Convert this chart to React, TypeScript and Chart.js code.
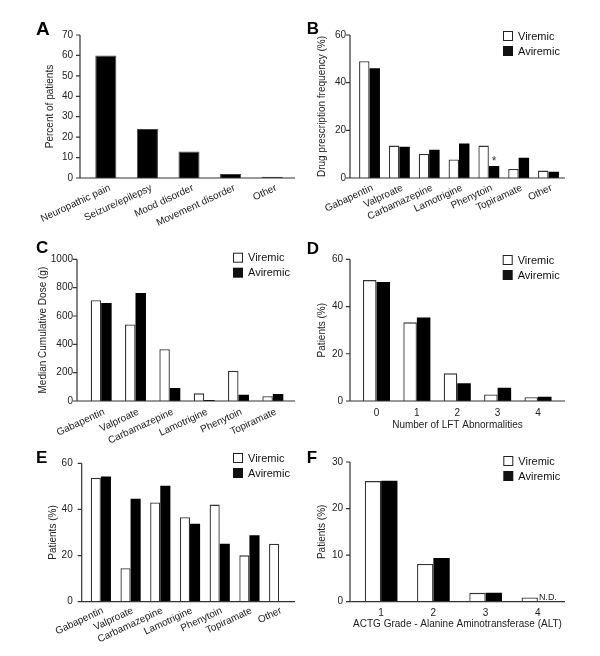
import React, { useEffect, useRef } from "react";
import { Chart, registerables } from "chart.js";
Chart.register(...registerables);

const FONT = '"Liberation Sans", Arial, Helvetica, sans-serif';
Chart.defaults.font.family = FONT;

// ---------- Data ----------
const catA = ["Neuropathic pain", "Seizure/epilepsy", "Mood disorder", "Movement disorder", "Other"];
const valA = [60, 24, 13, 2, 0.6];

const drugsB = ["Gabapentin", "Valproate", "Carbamazepine", "Lamotrigine", "Phenytoin", "Topiramate", "Other"];
const viremicB = [49, 13.6, 10.1, 7.8, 13.6, 3.8, 3.1];
const aviremicB = [46, 13.1, 11.9, 14.5, 5.0, 8.5, 2.6];

const drugsC = ["Gabapentin", "Valproate", "Carbamazepine", "Lamotrigine", "Phenytoin", "Topiramate"];
const viremicC = [711, 540, 366, 54, 213, 33];
const aviremicC = [692, 763, 92, 7, 44, 49];

const lftD = ["0", "1", "2", "3", "4"];
const viremicD = [51.2, 33.3, 11.7, 2.8, 1.6];
const aviremicD = [50.4, 35.4, 7.5, 5.6, 1.8];

const drugsE = ["Gabapentin", "Valproate", "Carbamazepine", "Lamotrigine", "Phenytoin", "Topiramate", "Other"];
const viremicE = [53.7, 14.5, 43.0, 36.6, 42.1, 20.1, 25.1];
const aviremicE = [54.3, 44.6, 50.3, 33.8, 25.1, 28.8, 0];

const gradeF = ["1", "2", "3", "4"];
const viremicF = [25.9, 8.1, 1.9, 0.9];
const aviremicF: (number | null)[] = [26, 9.4, 1.9, null];

const seriesNames = ["Viremic", "Aviremic"];

// ---------- Layout ----------
type Box = { x: number; y: number; w: number; h: number };
type Area = { l: number; r: number; t: number; b: number };
interface PanelCfg {
  canvas: Box;
  area: Area;
  axisX: number;
  axisEnd: number;
  labels: string[];
  series: (number | null)[][];
  yMax: number;
  yStep: number;
  rotation: number;
  labelOffset: number;
  xPad: number;
  labelGap: number;
  catPct: number;
  yTitle: string;
  yTitleX: number;
  xTitle?: string;
  xTitleDy?: number;
  letter: string;
  letterX: number;
  letterY: number;
  letterSize: number;
  legend?: { x: number; y: number };
  annotate?: (chart: any, ctx: CanvasRenderingContext2D) => void;
}

const panels: PanelCfg[] = [
  {
    canvas: { x: 0, y: 0, w: 300, h: 232 },
    area: { l: 85, r: 293, t: 35, b: 178 },
    axisX: 80, axisEnd: 295,
    labels: catA, series: [valA],
    yMax: 70, yStep: 10, rotation: 25, labelOffset: 4, xPad: 4, labelGap: 7,
    catPct: 0.506,
    yTitle: "Percent of patients", yTitleX: 50,
    letter: "A", letterX: 36, letterY: 35, letterSize: 19,
  },
  {
    canvas: { x: 300, y: 0, w: 300, h: 232 },
    area: { l: 354.6, r: 563.4, t: 35, b: 178 },
    axisX: 350, axisEnd: 565,
    labels: drugsB, series: [viremicB, aviremicB],
    yMax: 60, yStep: 20, rotation: 25, labelOffset: 3, xPad: 4, labelGap: 4,
    catPct: 0.7,
    yTitle: "Drug prescription frequency (%)", yTitleX: 322,
    letter: "B", letterX: 306.7, letterY: 33.5, letterSize: 17,
    legend: { x: 503, y: 31 },
    annotate: (chart, ctx) => {
      const bar: any = chart.getDatasetMeta(1).data[4];
      ctx.font = `12px ${FONT}`;
      ctx.fillStyle = "#333";
      ctx.textAlign = "center";
      ctx.textBaseline = "alphabetic";
      ctx.fillText("*", bar.x, bar.y - 1);
    },
  },
  {
    canvas: { x: 0, y: 232, w: 300, h: 212 },
    area: { l: 84, r: 290, t: 259.3, b: 401 },
    axisX: 77, axisEnd: 295,
    labels: drugsC, series: [viremicC, aviremicC],
    yMax: 1000, yStep: 200, rotation: 25, labelOffset: 3, xPad: 5, labelGap: 4,
    catPct: 0.61,
    yTitle: "Median Cumulative Dose (g)", yTitleX: 43,
    letter: "C", letterX: 36, letterY: 253.3, letterSize: 17,
    legend: { x: 233, y: 252.7 },
  },
  {
    canvas: { x: 300, y: 232, w: 300, h: 212 },
    area: { l: 356.3, r: 558.2, t: 259.3, b: 401 },
    axisX: 350, axisEnd: 565,
    labels: lftD, series: [viremicD, aviremicD],
    yMax: 60, yStep: 20, rotation: 0, labelOffset: 0, xPad: 6, labelGap: 7,
    catPct: 0.67,
    yTitle: "Patients (%)", yTitleX: 322,
    xTitle: "Number of LFT Abnormalities", xTitleDy: 24.7,
    letter: "D", letterX: 306.7, letterY: 254.3, letterSize: 17,
    legend: { x: 502.7, y: 255 },
  },
  {
    canvas: { x: 0, y: 444, w: 300, h: 212 },
    area: { l: 86, r: 294, t: 459, b: 601.7 },
    axisX: 81.7, axisEnd: 295,
    labels: drugsE, series: [viremicE, aviremicE],
    yMax: 60, yStep: 20, rotation: 25, labelOffset: 2, xPad: 3, labelGap: 9,
    catPct: 0.68,
    yTitle: "Patients (%)", yTitleX: 53,
    letter: "E", letterX: 36, letterY: 463.3, letterSize: 17,
    legend: { x: 233, y: 453 },
  },
  {
    canvas: { x: 300, y: 444, w: 300, h: 212 },
    area: { l: 355, r: 564, t: 459, b: 601.7 },
    axisX: 350, axisEnd: 565,
    labels: gradeF, series: [viremicF, aviremicF],
    yMax: 30, yStep: 10, rotation: 0, labelOffset: 0, xPad: 6, labelGap: 7,
    catPct: 0.625,
    yTitle: "Patients (%)", yTitleX: 322,
    xTitle: "ACTG Grade - Alanine Aminotransferase (ALT)", xTitleDy: 22.3,
    letter: "F", letterX: 306.7, letterY: 463.3, letterSize: 17,
    legend: { x: 503.3, y: 456 },
    annotate: (chart, ctx) => {
      const xs = chart.scales.x;
      const ys = chart.scales.y;
      ctx.font = `9px ${FONT}`;
      ctx.fillStyle = "#222";
      ctx.textAlign = "left";
      ctx.textBaseline = "alphabetic";
      ctx.fillText("N.D.", xs.getPixelForValue(3) + 1, ys.getPixelForValue(0) - 1.5);
    },
  },
];

function Panel({ cfg }: { cfg: PanelCfg }) {
  const ref = useRef<HTMLCanvasElement | null>(null);
  useEffect(() => {
    const { canvas, area } = cfg;
    const ox = canvas.x;
    const oy = canvas.y;
    const decor = {
      id: "decor" + cfg.letter,
      afterDraw(chart: any) {
        const ctx: CanvasRenderingContext2D = chart.ctx;
        const ca = chart.chartArea;
        const ax = cfg.axisX - ox;
        const ae = cfg.axisEnd - ox;
        ctx.save();
        ctx.strokeStyle = "#333";
        ctx.lineWidth = 1.2;
        ctx.beginPath();
        ctx.moveTo(ax, ca.top);
        ctx.lineTo(ax, ca.bottom);
        ctx.lineTo(ae, ca.bottom);
        const ys = chart.scales.y;
        ys.ticks.forEach((t: any) => {
          const py = ys.getPixelForValue(t.value);
          ctx.moveTo(ax - 4, py);
          ctx.lineTo(ax, py);
        });
        ctx.stroke();

        // y title
        ctx.fillStyle = "#222";
        ctx.font = `10px ${FONT}`;
        ctx.save();
        ctx.translate(cfg.yTitleX - ox, (ca.top + ca.bottom) / 2);
        ctx.rotate(-Math.PI / 2);
        ctx.textAlign = "center";
        ctx.textBaseline = "middle";
        ctx.fillText(cfg.yTitle, 0, 0);
        ctx.restore();

        // x title
        if (cfg.xTitle) {
          ctx.textAlign = "center";
          ctx.textBaseline = "middle";
          ctx.fillText(cfg.xTitle, (ax + ae) / 2, ca.bottom + (cfg.xTitleDy || 0));
        }

        // letter
        ctx.font = `bold ${cfg.letterSize}px ${FONT}`;
        ctx.fillStyle = "#000";
        ctx.textAlign = "left";
        ctx.textBaseline = "alphabetic";
        ctx.fillText(cfg.letter, cfg.letterX - ox, cfg.letterY - oy);

        // legend
        if (cfg.legend) {
          const lx = cfg.legend.x - ox;
          const ly = cfg.legend.y - oy;
          ctx.font = `11px ${FONT}`;
          ctx.textBaseline = "middle";
          ctx.textAlign = "left";
          seriesNames.forEach((name, i) => {
            const by = ly + i * 15;
            if (i === 0) {
              ctx.fillStyle = "#fff";
              ctx.fillRect(lx, by, 10, 10);
              ctx.strokeStyle = "#222";
              ctx.lineWidth = 1;
              ctx.strokeRect(lx + 0.5, by + 0.5, 9, 9);
            } else {
              ctx.fillStyle = "#111";
              ctx.fillRect(lx, by, 10, 10);
            }
            ctx.fillStyle = "#111";
            ctx.fillText(name, lx + 15, by + 5.5);
          });
        }
        if (cfg.annotate) cfg.annotate(chart, ctx);
        ctx.restore();
      },
    };

    const datasets =
      cfg.series.length === 1
        ? [
            {
              data: cfg.series[0],
              backgroundColor: "#000",
              borderColor: "#444",
              borderWidth: 1,
              barPercentage: 1,
              categoryPercentage: cfg.catPct,
            },
          ]
        : [
            {
              label: seriesNames[0],
              data: cfg.series[0],
              backgroundColor: "#fff",
              borderColor: "#333",
              borderWidth: 1.3,
              barPercentage: 1,
              categoryPercentage: cfg.catPct,
            },
            {
              label: seriesNames[1],
              data: cfg.series[1],
              backgroundColor: "#000",
              borderColor: "#000",
              borderWidth: 0,
              barPercentage: 1,
              categoryPercentage: cfg.catPct,
            },
          ];

    const chart = new Chart(ref.current as HTMLCanvasElement, {
      type: "bar",
      data: { labels: cfg.labels, datasets: datasets as any },
      options: {
        responsive: false,
        animation: false,
        devicePixelRatio: 1,
        layout: {
          padding: {
            top: area.t - oy,
            right: ox + canvas.w - area.r,
            left: 0,
            bottom: 0,
          },
        },
        plugins: { legend: { display: false }, tooltip: { enabled: false } },
        scales: {
          x: {
            type: "category",
            grid: { display: false, drawTicks: false },
            border: { display: false },
            ticks: {
              font: { size: 10, family: FONT },
              color: "#222",
              minRotation: cfg.rotation,
              maxRotation: cfg.rotation,
              autoSkip: false,
              padding: cfg.xPad,
              labelOffset: cfg.labelOffset,
            },
            afterFit: (s: any) => {
              s.height = canvas.h - (area.b - oy);
            },
          },
          y: {
            min: 0,
            max: cfg.yMax,
            grid: { display: false, drawTicks: false },
            border: { display: false },
            ticks: {
              stepSize: cfg.yStep,
              font: { size: 10, family: FONT },
              color: "#222",
              padding: area.l - cfg.axisX + cfg.labelGap,
              callback: (v: any) => String(v),
            },
            afterFit: (s: any) => {
              s.width = area.l - ox;
            },
          },
        },
      },
      plugins: [decor],
    });
    return () => chart.destroy();
  }, [cfg]);
  return (
    <canvas
      ref={ref}
      width={cfg.canvas.w}
      height={cfg.canvas.h}
      style={{
        position: "absolute",
        left: cfg.canvas.x,
        top: cfg.canvas.y,
        width: cfg.canvas.w,
        height: cfg.canvas.h,
      }}
    />
  );
}

export default function App() {
  return (
    <div
      style={{
        position: "absolute",
        left: 0,
        top: 0,
        width: 600,
        height: 656,
        background: "#fff",
        overflow: "hidden",
      }}
    >
      {panels.map((p) => (
        <Panel key={p.letter} cfg={p} />
      ))}
    </div>
  );
}
